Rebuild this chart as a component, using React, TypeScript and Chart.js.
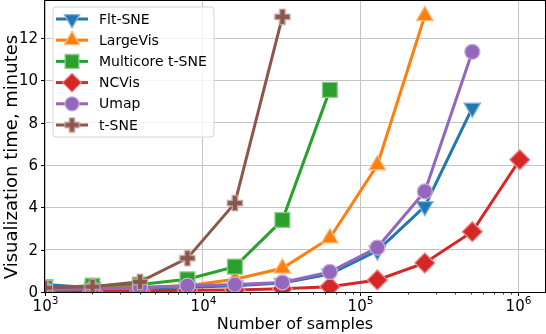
import React, { useEffect, useRef } from 'react';
import { Chart, registerables, PointElement } from 'chart.js';

Chart.register(...registerables);

// ---- data ----
const samples = [1000, 2000, 4000, 8000, 16000, 32000, 64000, 128000, 256000, 512000, 1024000];
const seriesNames = ['Flt-SNE', 'LargeVis', 'Multicore t-SNE', 'NCVis', 'Umap', 't-SNE'];
const fltSne = [0.35, 0.2, 0.2, 0.22, 0.3, 0.42, 0.85, 1.95, 4.05, 8.7];
const largeVis = [0.2, 0.2, 0.22, 0.3, 0.6, 1.12, 2.55, 6.0, 13.05];
const multicoreTsne = [0.2, 0.3, 0.35, 0.6, 1.2, 3.4, 9.55];
const ncvis = [0.05, 0.05, 0.06, 0.08, 0.1, 0.15, 0.25, 0.57, 1.37, 2.85, 6.25];
const umap = [0.1, 0.15, 0.2, 0.3, 0.35, 0.45, 0.95, 2.1, 4.75, 11.35];
const tsne = [0.2, 0.25, 0.48, 1.6, 4.2, 13.0];
const seriesValues = [fltSne, largeVis, multicoreTsne, ncvis, umap, tsne];
const seriesColors = ['#1f77b4', '#ff7f0e', '#2ca02c', '#d62728', '#9467bd', '#8c564b'];

const yTicks = [0, 2, 4, 6, 8, 10, 12];
const xDecades = [1e3, 1e4, 1e5, 1e6];
const xExponents = ['3', '4', '5', '6'];
const xTitle = 'Number of samples';
const yTitle = 'Visualization time, minutes';

const FONT = '"DejaVu Sans", sans-serif';

function lighten(hex: string, t: number) {
  const n = parseInt(hex.slice(1), 16);
  const r = (n >> 16) & 255, g = (n >> 8) & 255, b = n & 255;
  const m = (c: number) => Math.round(c + (255 - c) * t);
  return `rgb(${m(r)},${m(g)},${m(b)})`;
}

function makePlus(color: string, edge: string, size: number) {
  const c = document.createElement('canvas');
  c.width = size; c.height = size;
  const g = c.getContext('2d')!;
  const cx = size / 2, a = size * 0.15, L = size * 0.42;
  g.beginPath();
  g.moveTo(cx - a, cx - L); g.lineTo(cx + a, cx - L); g.lineTo(cx + a, cx - a);
  g.lineTo(cx + L, cx - a); g.lineTo(cx + L, cx + a); g.lineTo(cx + a, cx + a);
  g.lineTo(cx + a, cx + L); g.lineTo(cx - a, cx + L); g.lineTo(cx - a, cx + a);
  g.lineTo(cx - L, cx + a); g.lineTo(cx - L, cx - a); g.lineTo(cx - a, cx - a);
  g.closePath();
  g.fillStyle = color; g.fill();
  g.strokeStyle = edge; g.lineWidth = 1.3; g.stroke();
  return c;
}

export default function App() {
  const ref = useRef<HTMLCanvasElement>(null);

  useEffect(() => {
    const markers: any[] = [
      { pointStyle: 'triangle', rotation: 180, radius: 9.5 },
      { pointStyle: 'triangle', rotation: 0, radius: 9.5 },
      { pointStyle: 'rect', rotation: 0, radius: 10.5 },
      { pointStyle: 'rectRot', rotation: 0, radius: 10 },
      { pointStyle: 'circle', rotation: 0, radius: 7.5 },
      { pointStyle: makePlus(seriesColors[5], lighten(seriesColors[5], 0.45), 18), rotation: 0, radius: 8 },
    ];
    const legendPlus = makePlus(seriesColors[5], lighten(seriesColors[5], 0.45), 17);

    const datasets = seriesNames.map((name, i) => {
      const color = seriesColors[i];
      return {
        label: name,
        data: seriesValues[i].map((v, j) => ({ x: samples[j], y: v })),
        borderColor: color,
        backgroundColor: color,
        borderWidth: 3,
        pointStyle: markers[i].pointStyle,
        pointRotation: markers[i].rotation,
        pointRadius: markers[i].radius,
        pointBackgroundColor: color,
        pointBorderColor: lighten(color, 0.45),
        pointBorderWidth: 1.3,
        tension: 0,
        clip: 0,
        order: seriesNames.length - i,
      };
    });

    const decor = {
      id: 'decor',
      afterDraw(chart: any) {
        const ctx = chart.ctx as CanvasRenderingContext2D;
        const { left, right, top, bottom } = chart.chartArea;
        const xs = chart.scales.x, ys = chart.scales.y;
        ctx.save();
        // frame
        ctx.strokeStyle = '#000';
        ctx.lineWidth = 1;
        ctx.strokeRect(Math.round(left) - 0.5, Math.round(top) - 0.5, Math.round(right - left) + 1, Math.round(bottom - top) + 1);
        // y ticks
        ctx.fillStyle = '#000';
        ctx.font = `15px ${FONT}`;
        ctx.textAlign = 'right';
        ctx.textBaseline = 'middle';
        yTicks.forEach((v) => {
          const y = Math.round(ys.getPixelForValue(v)) + 0.5;
          ctx.beginPath();
          ctx.moveTo(left - 4, y); ctx.lineTo(left, y); ctx.stroke();
          ctx.fillText(String(v), left - 7, y + 1);
        });
        // x ticks major
        xDecades.forEach((v, k) => {
          const x = Math.round(xs.getPixelForValue(v)) + 0.5;
          ctx.beginPath();
          ctx.moveTo(x, bottom); ctx.lineTo(x, bottom + 4); ctx.stroke();
          ctx.font = `15px ${FONT}`;
          const w1 = ctx.measureText('10').width;
          ctx.font = `10.5px ${FONT}`;
          const w2 = ctx.measureText(xExponents[k]).width;
          const x0 = x - (w1 + w2) / 2;
          ctx.textAlign = 'left';
          ctx.textBaseline = 'alphabetic';
          ctx.font = `15px ${FONT}`;
          ctx.fillText('10', x0, bottom + 19);
          ctx.font = `10.5px ${FONT}`;
          ctx.fillText(xExponents[k], x0 + w1, bottom + 12);
        });
        // x minor ticks
        ctx.lineWidth = 0.8;
        for (let d = 3; d <= 6; d++) {
          for (let m = 2; m <= 9; m++) {
            const v = m * Math.pow(10, d);
            if (v > xs.max) continue;
            const x = Math.round(xs.getPixelForValue(v)) + 0.5;
            ctx.beginPath();
            ctx.moveTo(x, bottom); ctx.lineTo(x, bottom + 2.5); ctx.stroke();
          }
        }
        // axis titles
        ctx.font = `16px ${FONT}`;
        ctx.textAlign = 'center';
        ctx.textBaseline = 'alphabetic';
        ctx.fillText(xTitle, (left + right) / 2, 329);
        ctx.save();
        ctx.translate(17, 157);
        ctx.rotate(-Math.PI / 2);
        ctx.font = `18px ${FONT}`;
        ctx.fillText(yTitle, 0, 0);
        ctx.restore();

        // legend
        const lx = 53, ly = 7, lw = 161, lh = 130, r = 3;
        ctx.beginPath();
        ctx.moveTo(lx + r, ly);
        ctx.arcTo(lx + lw, ly, lx + lw, ly + lh, r);
        ctx.arcTo(lx + lw, ly + lh, lx, ly + lh, r);
        ctx.arcTo(lx, ly + lh, lx, ly, r);
        ctx.arcTo(lx, ly, lx + lw, ly, r);
        ctx.closePath();
        ctx.fillStyle = 'rgba(255,255,255,0.8)';
        ctx.fill();
        ctx.strokeStyle = '#d6d6d6';
        ctx.lineWidth = 1;
        ctx.stroke();
        chart.data.datasets.forEach((ds: any, i: number) => {
          const y = 19 + i * 21.2;
          ctx.strokeStyle = ds.borderColor;
          ctx.lineWidth = 3;
          ctx.beginPath();
          ctx.moveTo(56, y); ctx.lineTo(88, y); ctx.stroke();
          const isImg = typeof ds.pointStyle !== 'string';
          const pe: any = new (PointElement as any)({
            x: 72, y,
            options: {
              pointStyle: isImg ? legendPlus : ds.pointStyle, rotation: ds.pointRotation, radius: ds.pointRadius * 0.93,
              borderWidth: ds.pointBorderWidth, borderColor: ds.pointBorderColor,
              backgroundColor: ds.pointBackgroundColor,
            },
          });
          pe.draw(ctx);
          ctx.fillStyle = '#000';
          ctx.font = `14px ${FONT}`;
          ctx.textAlign = 'left';
          ctx.textBaseline = 'middle';
          ctx.fillText(ds.label, 99, y + 1);
        });
        ctx.restore();
      },
    };

    const chart = new Chart(ref.current!, {
      type: 'line',
      data: { datasets: datasets as any },
      options: {
        animation: false,
        responsive: false,
        devicePixelRatio: 1,
        layout: { autoPadding: false, padding: { left: 0, top: 1, right: 1, bottom: 0 } },
        plugins: { legend: { display: false }, tooltip: { enabled: false } },
        scales: {
          x: {
            type: 'logarithmic',
            min: 1000,
            max: 1.48e6,
            afterBuildTicks: (s: any) => { s.ticks = xDecades.map((v) => ({ value: v })); },
            afterFit: (s: any) => { s.height = 42; s.paddingLeft = 0; s.paddingRight = 0; },
            ticks: { display: false },
            grid: { color: '#c4c4c4', lineWidth: 1, drawTicks: false },
            border: { display: false },
          },
          y: {
            type: 'linear',
            min: 0,
            max: 13.75,
            afterBuildTicks: (s: any) => { s.ticks = yTicks.map((v) => ({ value: v })); },
            afterFit: (s: any) => { s.width = 45; s.paddingTop = 0; s.paddingBottom = 0; },
            ticks: { display: false },
            grid: { color: '#c4c4c4', lineWidth: 1, drawTicks: false },
            border: { display: false },
          },
        },
      },
      plugins: [decor],
    });
    return () => chart.destroy();
  }, []);

  return (
    <div style={{ position: 'absolute', left: 0, top: 0, width: 546, height: 334, background: '#fff' }}>
      <canvas ref={ref} width={546} height={334} style={{ display: 'block' }} />
    </div>
  );
}
